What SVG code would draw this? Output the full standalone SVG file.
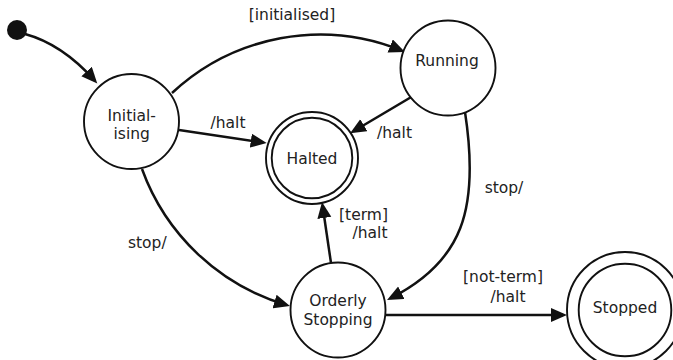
<svg xmlns="http://www.w3.org/2000/svg" width="673" height="360" viewBox="0 0 673 360">
<style>
.st{fill:#fff;stroke:#111;stroke-width:1.9}
.e{fill:none;stroke:#111;stroke-width:2.5;marker-end:url(#ah)}
text{font-family:"DejaVu Sans",Verdana,sans-serif;font-size:15.5px;fill:#222;text-anchor:middle}
</style>
<defs>
<marker id="ah" markerUnits="userSpaceOnUse" markerWidth="18" markerHeight="15" refX="12" refY="7" orient="auto">
<path d="M0,0 L16,7 L0,14 z" fill="#111"/>
</marker>
</defs>
<rect width="673" height="360" fill="#fff"/>
<g id="connectors">
<path class="e" d="M25,34 Q62,44 94.6,80.4"/>
<path class="e" d="M172,93 A217,217 0 0 1 401.3,50.4"/>
<path class="e" d="M179,130 L262.7,142.4"/>
<path class="e" d="M411.7,96.7 L353.5,131.3"/>
<path class="e" d="M465,112 C480,210 462,262 390.6,298.2"/>
<path class="e" d="M142,169 A220,220 0 0 0 286.1,304.9"/>
<path class="e" d="M331,263 L322.6,206"/>
<path class="e" d="M386,315 L563,315"/>
</g>
<g id="labels">
<text x="292" y="20">[initialised]</text>
<text x="228" y="128">/halt</text>
<text x="394.5" y="138">/halt</text>
<text x="504" y="193">stop/</text>
<text x="147.3" y="248">stop/</text>
<text x="363.5" y="220">[term]</text>
<text x="370" y="238">/halt</text>
<text x="503" y="281.7">[not-term]</text>
<text x="508" y="301.7">/halt</text>
</g>
<g id="initial">
<circle cx="17" cy="30" r="10" fill="#111"/>
</g>
<g id="initialising">
<circle class="st" cx="131.5" cy="121.5" r="47.5"/>
<text x="131.7" y="121">Initial-</text>
<text x="131.7" y="139">ising</text>
</g>
<g id="running">
<circle class="st" cx="448" cy="68" r="47.5"/>
<text x="447" y="66">Running</text>
</g>
<g id="halted">
<circle class="st" cx="312" cy="158" r="46"/>
<circle class="st" cx="312" cy="158" r="40.3"/>
<text x="312" y="164">Halted</text>
</g>
<g id="orderly">
<circle class="st" cx="338" cy="310" r="47.5"/>
<text x="338" y="306">Orderly</text>
<text x="338" y="325">Stopping</text>
</g>
<g id="stopped">
<circle class="st" cx="625" cy="310" r="58"/>
<circle class="st" cx="625" cy="310" r="46.3"/>
<text x="625" y="312.7">Stopped</text>
</g>
</svg>
